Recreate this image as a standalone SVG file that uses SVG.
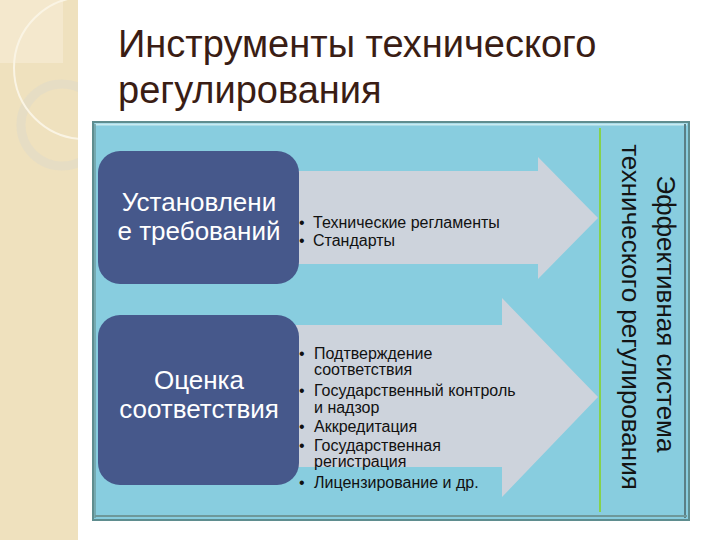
<svg xmlns="http://www.w3.org/2000/svg" width="720" height="540" viewBox="0 0 720 540">
<style>
  .title{font-family:"Liberation Sans",Arial,sans-serif;font-size:38px;fill:#3a1d14;}
  .box{fill:#46588b;}
  .boxtxt{font-family:"Liberation Sans",Arial,sans-serif;font-size:26px;fill:#ffffff;text-anchor:middle;}
  .arrow{fill:#cdd3dc;}
  .list{font-family:"Liberation Sans",Arial,sans-serif;font-size:16px;fill:#111111;}
  .vert{font-family:"Liberation Sans",Arial,sans-serif;font-size:26px;fill:#141414;text-anchor:middle;}
</style>
<defs>
  <clipPath id="strip"><rect x="0" y="0" width="78" height="540"/></clipPath>
</defs>
<rect x="0" y="0" width="720" height="540" fill="#ffffff"/>
<g id="decor">
  <rect x="0" y="0" width="78" height="540" fill="#efe1be"/>
  <g clip-path="url(#strip)">
    <rect x="0" y="0" width="63" height="63" fill="#f4e8cd"/>
    <circle cx="62" cy="125" r="41" fill="none" stroke="#e4dcc6" stroke-width="9" opacity="0.8"/>
    <circle cx="85" cy="68" r="71" fill="none" stroke="#faf4e4" stroke-width="2"/>
  </g>
</g>
<g id="title">
  <text class="title" x="118" y="57">Инструменты технического</text>
  <text class="title" x="118" y="103">регулирования</text>
</g>
<g id="frame">
  <rect x="93" y="122" width="596" height="398" fill="#88cddf" stroke="#5f8d8f" stroke-width="2"/>
  <line x1="95" y1="124.5" x2="687" y2="124.5" stroke="#c9eaf0" stroke-width="2"/>
  <line x1="95" y1="124" x2="95" y2="518" stroke="#6f9ca0" stroke-width="1.5"/>
  <line x1="685" y1="124" x2="685" y2="518" stroke="#5a7f86" stroke-width="2"/>
  <line x1="95" y1="516" x2="687" y2="516" stroke="#6e989a" stroke-width="2"/>
  <line x1="600" y1="128" x2="600" y2="512" stroke="#86d24c" stroke-width="2"/>
</g>
<g id="connectors">
  <polygon class="arrow" points="290,171 538,171 538,157 598,218 538,279 538,264 290,264"/>
  <polygon class="arrow" points="290,325 502,325 502,298 598,397 502,497 502,467 290,467"/>
</g>
<g id="node-requirements">
  <rect class="box" x="98" y="151" width="201" height="133" rx="22" ry="22"/>
  <text class="boxtxt" x="199" y="211">Установлени</text>
  <text class="boxtxt" x="199" y="240">е требований</text>
</g>
<g id="node-assessment">
  <rect class="box" x="98" y="315" width="201" height="170" rx="22" ry="22"/>
  <text class="boxtxt" x="199" y="389">Оценка</text>
  <text class="boxtxt" x="199" y="418">соответствия</text>
</g>
<g id="list-requirements">
  <text class="list" x="299" y="228">•</text>
  <text class="list" x="313" y="228">Технические регламенты</text>
  <text class="list" x="299" y="246">•</text>
  <text class="list" x="313" y="246">Стандарты</text>
</g>
<g id="list-assessment">
  <text class="list" x="299" y="359">•</text>
  <text class="list" x="314" y="359">Подтверждение</text>
  <text class="list" x="314" y="375">соответствия</text>
  <text class="list" x="299" y="396">•</text>
  <text class="list" x="314" y="396">Государственный контроль</text>
  <text class="list" x="314" y="413">и надзор</text>
  <text class="list" x="299" y="432">•</text>
  <text class="list" x="314" y="432">Аккредитация</text>
  <text class="list" x="299" y="451">•</text>
  <text class="list" x="314" y="451">Государственная</text>
  <text class="list" x="314" y="467">регистрация</text>
  <text class="list" x="299" y="488">•</text>
  <text class="list" x="314" y="488">Лицензирование и др.</text>
</g>
<g id="node-result">
  <text class="vert" transform="translate(657,314) rotate(90)">Эффективная система</text>
  <text class="vert" transform="translate(622,317) rotate(90)">технического регулирования</text>
</g>
</svg>
